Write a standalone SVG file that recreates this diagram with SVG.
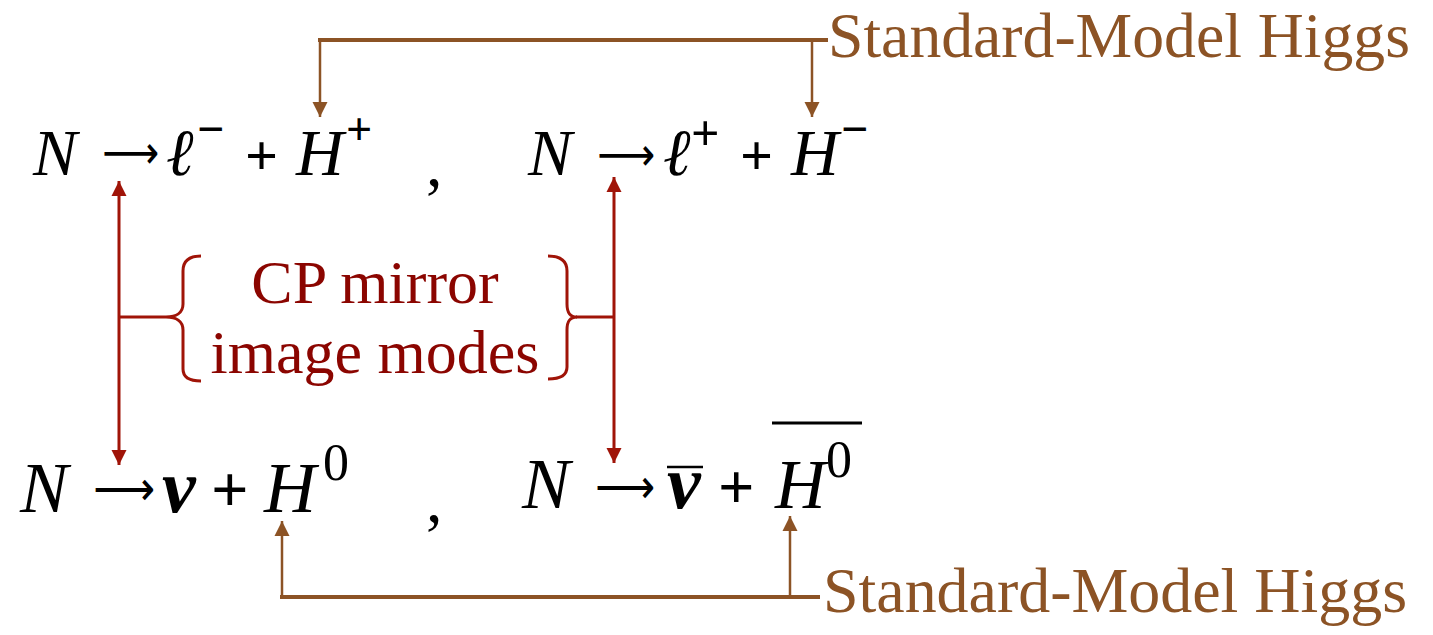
<svg xmlns="http://www.w3.org/2000/svg" width="1433" height="635" viewBox="0 0 1433 635">
<style>
.m{font-family:"Liberation Serif","Times New Roman",serif;fill:#000}
.i{font-style:italic}
.b{font-weight:bold}
.ar{font-family:"DejaVu Sans",sans-serif;fill:#000}
.lbl{font-family:"Liberation Serif","Times New Roman",serif;font-size:64px;fill:#8C5325}
.cp{font-family:"Liberation Serif","Times New Roman",serif;font-size:62px;fill:#8B0500;text-anchor:middle}
.br{fill:none;stroke:#8C5325}
.rd{fill:none;stroke:#A01408}
</style>
<defs>
<marker id="ab" markerUnits="userSpaceOnUse" markerWidth="16" markerHeight="16" viewBox="0 0 16 16" refX="15" refY="8" orient="auto"><path d="M0,0.5 L15,8 L0,15.5 z" fill="#8C5325"/></marker>
<marker id="ar" markerUnits="userSpaceOnUse" markerWidth="16" markerHeight="16" viewBox="0 0 16 16" refX="15" refY="8" orient="auto-start-reverse"><path d="M0,0.5 L15,8 L0,15.5 z" fill="#A01408"/></marker>
</defs>
<rect width="1433" height="635" fill="#fff"/>
<g id="connectors">
<path class="br" stroke-width="4" d="M318,40 H828"/>
<path class="br" stroke-width="2.5" d="M320,40 V117" marker-end="url(#ab)"/>
<path class="br" stroke-width="2.5" d="M812,40 V117" marker-end="url(#ab)"/>
<path class="br" stroke-width="4" d="M280,597 H820"/>
<path class="br" stroke-width="2.5" d="M282,597 V521" marker-end="url(#ab)"/>
<path class="br" stroke-width="2.5" d="M790,597 V516" marker-end="url(#ab)"/>
<path class="rd" stroke-width="3" d="M119,181 V465" marker-start="url(#ar)" marker-end="url(#ar)"/>
<path class="rd" stroke-width="3" d="M614,177 V463" marker-start="url(#ar)" marker-end="url(#ar)"/>
<path class="rd" stroke-width="3" d="M119,317 H166"/>
<path class="rd" stroke-width="3" d="M576,317 H614"/>
</g>
<g id="top-label"><text class="lbl" x="828" y="57" textLength="582" lengthAdjust="spacingAndGlyphs">Standard-Model Higgs</text></g>
<g id="bottom-label"><text class="lbl" x="823" y="612" textLength="584" lengthAdjust="spacingAndGlyphs">Standard-Model Higgs</text></g>
<g id="cp-label">
<path class="rd" stroke-width="3" d="M201,256 C190,256 183,260 183,271 L183,304 C183,313 176,317 166,317 C176,317 183,321 183,330 L183,369 C183,378 190,381 201,381"/>
<path class="rd" stroke-width="3" d="M548,256 C559,256 567,260 567,271 L567,304 C567,313 570,317 577,317 C570,317 567,321 567,330 L567,367 C567,376 559,379 548,379"/>
<text class="cp" x="375" y="303">CP mirror</text>
<text class="cp" x="375" y="373">image modes</text>
</g>
<g id="eq-1">
<text class="m i" x="33" y="175" font-size="66">N</text>
<text class="ar" x="102" y="168" font-size="46" textLength="57" lengthAdjust="spacingAndGlyphs">⟶</text>
<text class="m i" x="166" y="175" font-size="66">ℓ</text>
<text class="m b" x="197" y="145" font-size="48">−</text>
<text class="m b" x="245" y="175" font-size="58">+</text>
<text class="m i" x="296" y="175" font-size="66">H</text>
<text class="m b" x="346" y="145" font-size="46">+</text>
<text class="m" x="426" y="186" font-size="66">,</text>
</g>
<g id="eq-2">
<text class="m i" x="528" y="175" font-size="66">N</text>
<text class="ar" x="597" y="170" font-size="46" textLength="58" lengthAdjust="spacingAndGlyphs">⟶</text>
<text class="m i" x="663" y="175" font-size="66">ℓ</text>
<text class="m b" x="691" y="150" font-size="50">+</text>
<text class="m b" x="740" y="175" font-size="58">+</text>
<text class="m i" x="791" y="175" font-size="66">H</text>
<text class="m b" x="841" y="145" font-size="48">−</text>
</g>
<g id="eq-3">
<text class="m i" x="20" y="512" font-size="72">N</text>
<text class="ar" x="93" y="505" font-size="48" textLength="62" lengthAdjust="spacingAndGlyphs">⟶</text>
<text class="m i b" x="162" y="512" font-size="76">ν</text>
<text class="m b" x="211" y="512" font-size="66">+</text>
<text class="m i" x="264" y="512" font-size="72">H</text>
<text class="m" x="323" y="480" font-size="52">0</text>
<text class="m" x="426" y="522" font-size="66">,</text>
</g>
<g id="eq-4">
<text class="m i" x="522" y="508" font-size="72">N</text>
<text class="ar" x="595" y="503" font-size="48" textLength="60" lengthAdjust="spacingAndGlyphs">⟶</text>
<text class="m i b" x="667" y="508" font-size="76">ν</text>
<path d="M667,467 H703" stroke="#000" stroke-width="2.5"/>
<text class="m b" x="718" y="508" font-size="64">+</text>
<text class="m i" x="775" y="508" font-size="70">H</text>
<text class="m" x="826" y="477" font-size="52">0</text>
<path d="M772,423 H862" stroke="#000" stroke-width="3"/>
</g>
</svg>
